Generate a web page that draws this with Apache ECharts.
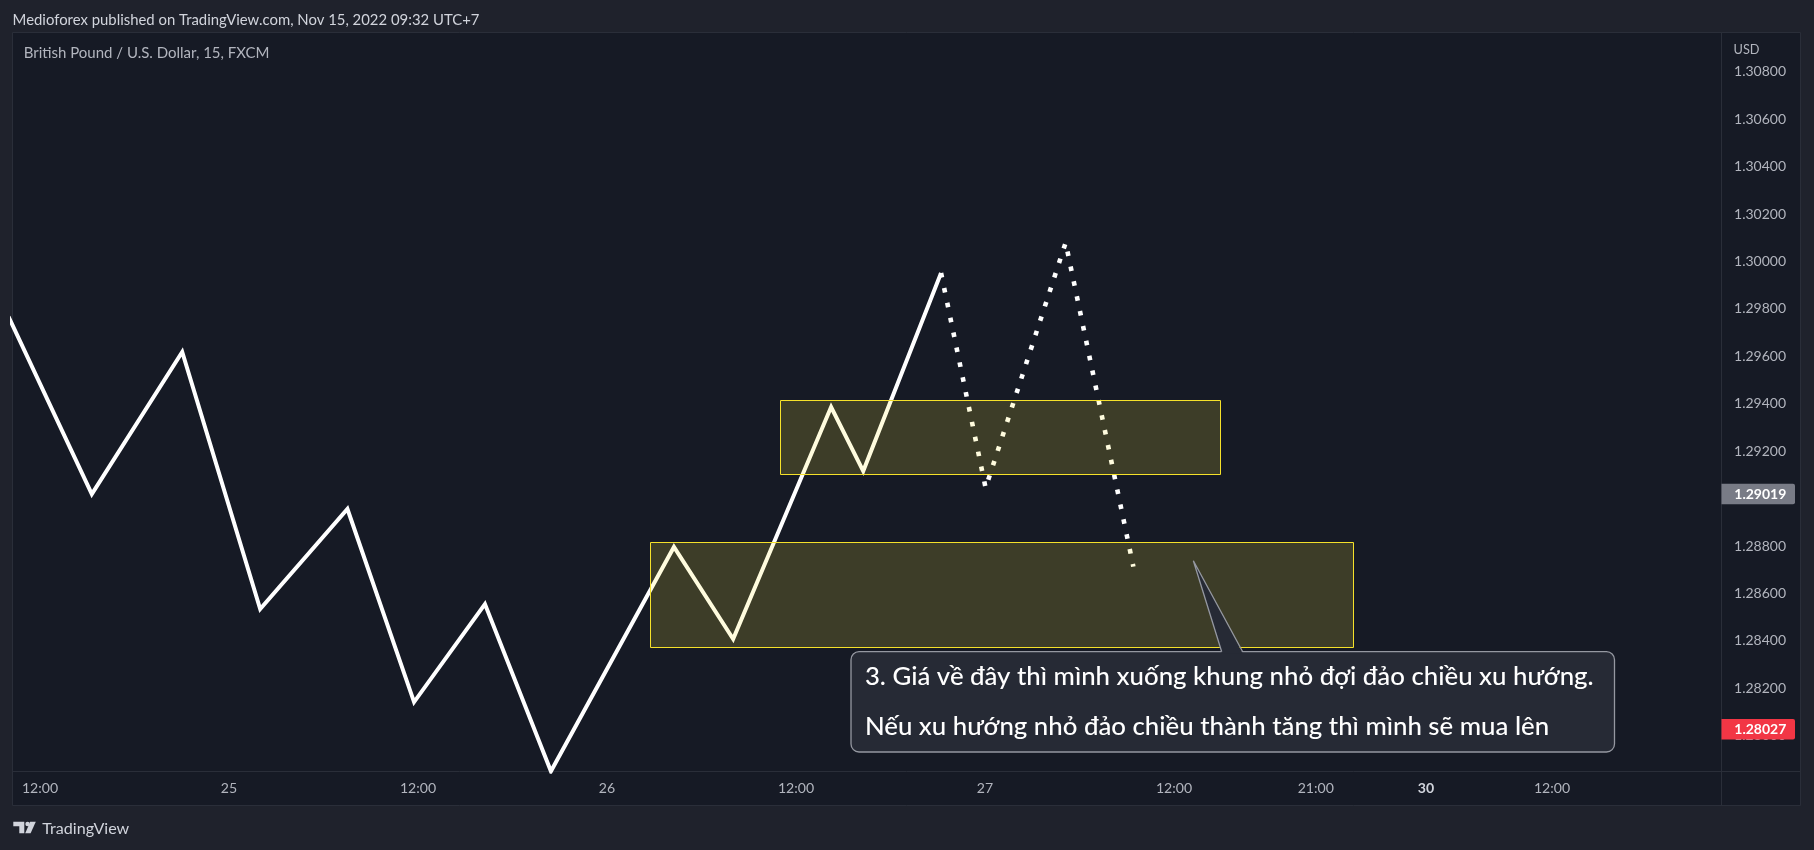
<!DOCTYPE html>
<html>
<head>
<meta charset="utf-8">
<script src="https://cdn.jsdelivr.net/npm/echarts@6/dist/echarts.min.js"></script>
<style>
html,body{margin:0;padding:0;background:#1f222c;}
#c{width:1814px;height:850px;}
</style>
</head>
<body>
<div id="c"></div>
<script>
// ---------- DATA (hours since 24th 00:00, prices in USD) ----------
const solidHours  = [10, 15.29, 21.03, 25.98, 31.52, 35.75, 40.25, 44.44, 52.25, 56.01, 62.23, 64.27, 69.21];
const solidPrices = [1.29767, 1.29019, 1.29618, 1.28534, 1.28956, 1.28142, 1.28555, 1.27850, 1.28796, 1.28408, 1.29386, 1.29116, 1.29951];
const projHours   = [69.21, 72.04, 77.12, 81.42];
const projPrices  = [1.29951, 1.29045, 1.30079, 1.28713];
const zoneStart   = [59.00, 50.76];
const zoneEnd     = [86.96, 95.42];
const zoneTop     = [1.29414, 1.28818];
const zoneBottom  = [1.29102, 1.28377];
const timeTickHours  = [12, 24, 36, 48, 60, 72, 84, 93, 100, 108];
const timeTickLabels = ['12:00', '25', '12:00', '26', '12:00', '27', '12:00', '21:00', '30', '12:00'];
const boldTimeLabels = ['30'];
const priceTicks = [1.280, 1.282, 1.284, 1.286, 1.288, 1.290, 1.292, 1.294, 1.296, 1.298, 1.300, 1.302, 1.304, 1.306, 1.308];
const markerPrices = [1.29019, 1.28027];
const markerColors = ['#787b86', '#f23645'];
const calloutAnchor = [85.23, 1.28738];
const calloutLines = [
  '3. Giá về đây thì mình xuống khung nhỏ đợi đảo chiều xu hướng.',
  'Nếu xu hướng nhỏ đảo chiều thành tăng thì mình sẽ mua lên'
];
const headerText = 'Medioforex published on TradingView.com, Nov 15, 2022 09:32 UTC+7';
const symbolText = 'British Pound / U.S. Dollar, 15, FXCM';
const currencyText = 'USD';
const brandText = 'TradingView';

// ---------- helpers ----------
const mctx = document.createElement('canvas').getContext('2d');
function fit(text, family, weight, target) {
  mctx.font = weight + ' 100px "' + family + '"';
  const w = mctx.measureText(text).width;
  return +(100 * target / w).toFixed(2);
}
const AX_FONT = 'Lato';
const UI_FONT = 'Lato';
const axSize = fit('1.30800', AX_FONT, 'normal', 52);
const tSize = fit('12:00', AX_FONT, 'normal', 36.2);

const chart = echarts.init(document.getElementById('c'), null, {renderer: 'canvas'});

const option = {
  backgroundColor: '#1f222c',
  animation: false,
  grid: {left: 12.6, right: 1814 - 1721.3, top: 33, bottom: 850 - 771.7, containLabel: false, outerBoundsMode: 'none'},
  xAxis: {
    type: 'value', min: 10.26, max: 118.75, z: 50,
    axisLine: {show: false}, axisTick: {show: false}, splitLine: {show: false},
    axisLabel: {
      customValues: timeTickHours,
      formatter: function (v) {
        let idx = 0, best = 1e9;
        timeTickHours.forEach((h, i) => { if (Math.abs(h - v) < best) { best = Math.abs(h - v); idx = i; } });
        const t = timeTickLabels[idx];
        return boldTimeLabels.indexOf(t) >= 0 ? '{b|' + t + '}' : t;
      },
      color: '#b2b5be', fontSize: tSize, fontFamily: AX_FONT, margin: 10,
      rich: {b: {fontWeight: 'bold', color: '#d1d4dc', fontSize: tSize, fontFamily: AX_FONT}}
    }
  },
  yAxis: {
    type: 'value', position: 'right', min: 1.278483, max: 1.309632, z: 50,
    axisLine: {show: false}, axisTick: {show: false}, splitLine: {show: false},
    axisLabel: {
      customValues: priceTicks,
      formatter: v => v.toFixed(5),
      color: '#b2b5be', fontSize: axSize, fontFamily: AX_FONT, align: 'left', margin: 12.8
    }
  },
  series: [
    {
      type: 'line', z: 10, silent: true, symbol: 'none', clip: true,
      data: solidHours.map((h, i) => [h, solidPrices[i]]),
      lineStyle: {color: '#ffffff', width: 4, join: 'miter', miterLimit: 20, cap: 'butt'}
    },
    {
      type: 'line', z: 11, silent: true, symbol: 'none', clip: true,
      data: projHours.map((h, i) => [h, projPrices[i]]),
      lineStyle: {color: '#ffffff', width: 4.6, type: [4.6, 10.6], join: 'miter', cap: 'butt'}
    },
    {
      type: 'custom', z: 12, silent: true, clip: true,
      data: zoneStart.map((s, i) => [s, zoneEnd[i], zoneTop[i], zoneBottom[i]]),
      encode: {x: [0, 1], y: [2, 3]},
      renderItem: function (params, api) {
        const p0 = api.coord([api.value(0), api.value(2)]);
        const p1 = api.coord([api.value(1), api.value(3)]);
        return {
          type: 'rect',
          shape: {x: Math.round(p0[0]) + 0.5, y: Math.round(p0[1]) + 0.5,
                  width: Math.round(p1[0] - p0[0]), height: Math.round(p1[1] - p0[1])},
          style: {fill: 'rgba(255,235,59,0.17)', stroke: '#f5e12a', lineWidth: 1}
        };
      }
    }
  ]
};
chart.setOption(option);

// ---------- overlay graphics ----------
const px = (h, v) => chart.convertToPixel({gridIndex: 0}, [h, v]);
const FRAME = {x: 12.5, y: 32.5, r: 1800.5, b: 805.5};
const PLOT_R = 1721.5, PLOT_B = 771.5;
const g = [];
g.push({type: 'rect', z: 0, silent: true, shape: {x: FRAME.x, y: FRAME.y, width: FRAME.r - FRAME.x, height: FRAME.b - FRAME.y},
  style: {fill: '#161a25', stroke: '#2a2e39', lineWidth: 1}});
g.push({type: 'line', z: 1, silent: true, shape: {x1: PLOT_R, y1: FRAME.y, x2: PLOT_R, y2: FRAME.b}, style: {stroke: '#2a2e39', lineWidth: 1}});
g.push({type: 'line', z: 1, silent: true, shape: {x1: FRAME.x, y1: PLOT_B, x2: FRAME.r, y2: PLOT_B}, style: {stroke: '#2a2e39', lineWidth: 1}});

g.push({type: 'text', z: 100, silent: true, x: 12.6, y: 20,
  style: {text: headerText, fill: '#d1d4dc', fontFamily: UI_FONT, fontSize: fit(headerText, UI_FONT, 'normal', 467), verticalAlign: 'middle'}});
g.push({type: 'text', z: 100, silent: true, x: 23.7, y: 53.3,
  style: {text: symbolText, fill: '#b2b5be', fontFamily: UI_FONT, fontSize: fit(symbolText, UI_FONT, 'normal', 246), verticalAlign: 'middle'}});
g.push({type: 'text', z: 100, silent: true, x: 1733.5, y: 50,
  style: {text: currencyText, fill: '#b2b5be', fontFamily: AX_FONT, fontSize: fit(currencyText, AX_FONT, 'normal', 26), verticalAlign: 'middle'}});

markerPrices.forEach((p, i) => {
  const y = px(118, p)[1];
  g.push({type: 'rect', z: 100, silent: true, shape: {x: 1721.5, y: y - 10.2, width: 73.5, height: 20.4, r: [0, 2, 2, 0]},
    style: {fill: markerColors[i]}});
  g.push({type: 'text', z: 101, silent: true, x: 1734.3, y: y,
    style: {text: p.toFixed(5), fill: '#ffffff', fontFamily: AX_FONT, fontSize: axSize, fontWeight: 'bold', verticalAlign: 'middle'}});
});

const tip = px(calloutAnchor[0], calloutAnchor[1]);
const CB = {x: 851, y: 651.7, w: 763.5, h: 100.3};
const baseL = 1221.7, baseR = 1242.7;
g.push({type: 'rect', z: 100, silent: true, shape: {x: CB.x, y: CB.y, width: CB.w, height: CB.h, r: 8},
  style: {fill: '#262a35', stroke: '#9598a1', lineWidth: 1.3}});
g.push({type: 'polygon', z: 101, silent: true, shape: {points: [[baseL, CB.y + 1.5], tip, [baseR, CB.y + 1.5]]},
  style: {fill: '#262a35'}});
g.push({type: 'polyline', z: 102, silent: true, shape: {points: [[baseL, CB.y], tip, [baseR, CB.y]]},
  style: {stroke: '#9598a1', lineWidth: 1.3, fill: null}});
const CW = '500';
const cSize = fit(calloutLines[0], UI_FONT, CW, 729);
g.push({type: 'text', z: 103, silent: true, x: 864.9, y: 676.7,
  style: {text: calloutLines[0], fill: '#ffffff', fontFamily: UI_FONT, fontWeight: CW, fontSize: cSize, verticalAlign: 'middle'}});
g.push({type: 'text', z: 103, silent: true, x: 864.9, y: 726.7,
  style: {text: calloutLines[1], fill: '#ffffff', fontFamily: UI_FONT, fontWeight: CW, fontSize: cSize, verticalAlign: 'middle'}});

g.push({type: 'polygon', z: 100, silent: true,
  shape: {points: [[13.3, 821.7], [24.3, 821.7], [24.3, 833.3], [19.3, 833.3], [19.3, 826.3], [13.3, 826.3]]},
  style: {fill: '#d1d4dc'}});
g.push({type: 'circle', z: 100, silent: true, shape: {cx: 27.6, cy: 824, r: 2.3}, style: {fill: '#d1d4dc'}});
g.push({type: 'polygon', z: 100, silent: true,
  shape: {points: [[30.2, 821.7], [35.8, 821.7], [30.6, 833.3], [25.2, 833.3]]},
  style: {fill: '#d1d4dc'}});
g.push({type: 'text', z: 100, silent: true, x: 42.3, y: 828.3,
  style: {text: brandText, fill: '#d1d4dc', fontFamily: UI_FONT, fontSize: fit(brandText, UI_FONT, 'normal', 87), verticalAlign: 'middle'}});

chart.setOption({graphic: {elements: g}});
</script>
</body>
</html>
